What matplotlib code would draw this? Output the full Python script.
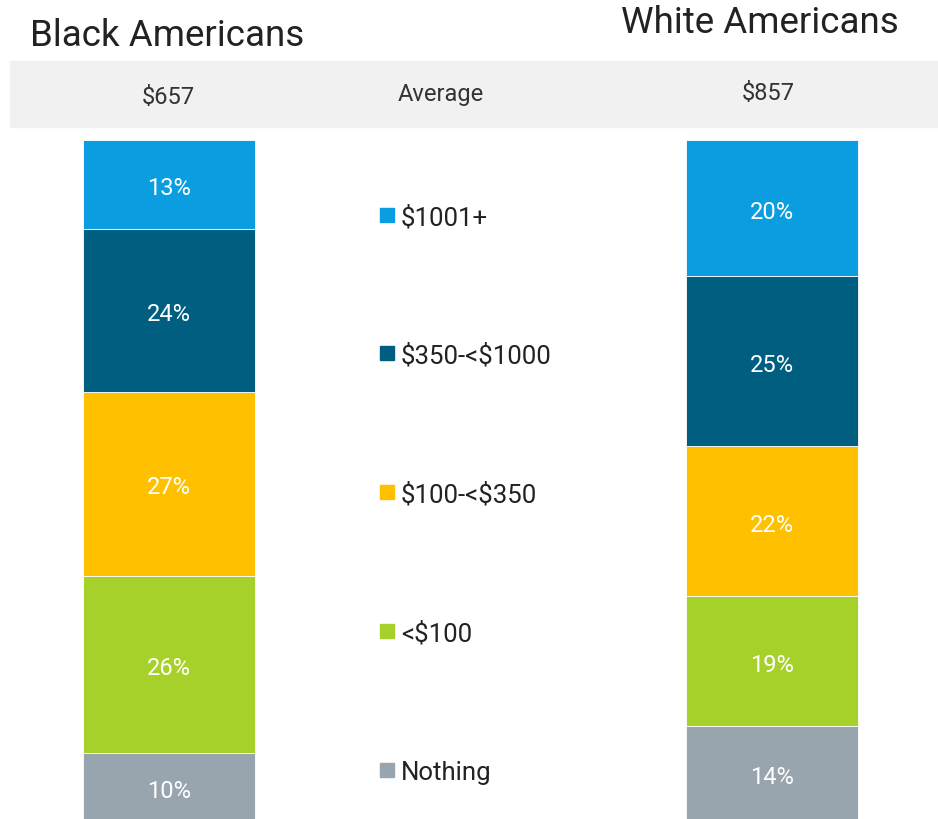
import matplotlib
matplotlib.use("Agg")
import matplotlib.pyplot as plt
from matplotlib.patches import Rectangle

plt.rcParams['font.family'] = ['Roboto', 'DejaVu Sans']
plt.rcParams['text.parse_math'] = False

# data (stacked bottom -> top)
groups = ['Black Americans', 'White Americans']
averages = ['$657', '$857']
categories = ['Nothing', '<$100', '$100-<$350', '$350-<$1000', '$1001+']
black_pct = [10, 26, 27, 24, 13]
white_pct = [14, 19, 22, 25, 20]
colors = ['#98a4ae', '#a6d12a', '#ffc000', '#005e80', '#0a9de0']

W, H = 938, 820
fig = plt.figure(figsize=(W / 100, H / 100), dpi=100)

# bars axes: value 0 at pixel 822, value 100 at pixel 141
ax = fig.add_axes([0, (H - 822) / H, 1, (822 - 141) / H])
ax.set_xlim(0, W)
ax.set_ylim(0, 100)
ax.axis('off')

xpos = [169, 772]
for xi, vals in zip(xpos, [black_pct, white_pct]):
    bottom = 0
    for v, c in zip(vals, colors):
        ax.bar(xi, v, width=172, bottom=bottom, color=c, edgecolor='white', linewidth=0.6)
        ax.text(xi, bottom + v / 2 - 0.45, f'{v}%', ha='center', va='center',
                color='white', fontsize=17)
        bottom += v

# header band
fig.patches.append(Rectangle((10 / W, 1 - 128 / H), (W - 10) / W, 66 / H,
                             transform=fig.transFigure, color='#f1f1f1', zorder=0))
fig.text(30 / W, 1 - 36 / H, groups[0], ha='left', va='center', fontsize=26.5, color='#222222')
fig.text(760 / W, 1 - 23 / H, groups[1], ha='center', va='center', fontsize=26.5, color='#222222')
fig.text(168 / W, 1 - 97 / H, averages[0], ha='center', va='center', fontsize=17,
         color='#333333')
fig.text(441 / W, 1 - 95 / H, 'Average', ha='center', va='center', fontsize=17,
         color='#333333')
fig.text(768 / W, 1 - 94 / H, averages[1], ha='center', va='center', fontsize=17,
         color='#333333')

# legend in the middle, top entry first
legend_y = [216, 354, 493, 632, 771]
for yy, lab, c in zip(legend_y, categories[::-1], colors[::-1]):
    fig.patches.append(Rectangle((380 / W, 1 - (yy + 7) / H), 14 / W, 14 / H,
                                 transform=fig.transFigure, color=c))
    fig.text(401 / W, 1 - (yy + 2) / H, lab, ha='left', va='center', fontsize=18.5,
             color='#222222')

fig.savefig('out.png', dpi=100)
